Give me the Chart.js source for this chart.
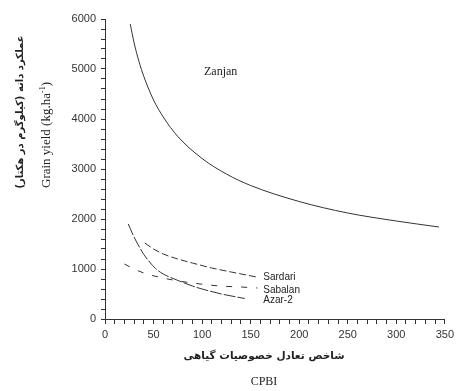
<!DOCTYPE html>
<html>
<head>
<meta charset="utf-8">
<script src="https://cdn.jsdelivr.net/npm/chart.js@4"></script>
<style>
  html, body { margin: 0; padding: 0; background: #fff; }
  #wrap { position: relative; width: 458px; height: 391px; }
  .lbl { position: absolute; color: #222; white-space: nowrap; }
  .rot { transform: translate(-50%, -50%) rotate(-90deg); }
  .fa { font-family: "DejaVu Sans", sans-serif; font-size: 10px; font-weight: bold; direction: rtl; }
  .en { font-family: "Liberation Serif", serif; font-size: 12px; }
</style>
</head>
<body>
<div id="wrap">
  <canvas id="chart" width="458" height="391"></canvas>
  <div class="lbl rot fa" style="left:19px; top:112px;">عملکرد دانه (کیلوگرم در هکتار)</div>
  <div class="lbl rot en" style="left:46px; top:135px; font-size:13px;">Grain yield (kg.ha<sup style="font-size:8px">-1</sup>)</div>
  <div class="lbl fa" style="left:264px; top:355px; transform: translate(-50%, -50%); font-size:10.5px;">شاخص تعادل خصوصیات گیاهی</div>
  <div class="lbl en" style="left:264px; top:381px; transform: translate(-50%, -50%);">CPBI</div>
</div>
<script>
// valores
const zanjanX = [26, 30, 35, 40, 50, 60, 75, 100, 125, 150, 200, 250, 300, 344];
const zanjanY = [5900, 5520, 5150, 4850, 4380, 4040, 3650, 3210, 2900, 2670, 2350, 2120, 1960, 1840];

const sardariX = [41, 50, 60, 75, 90, 110, 130, 156];
const sardariY = [1520, 1400, 1300, 1200, 1120, 1020, 940, 840];

const sabalanX = [20, 30, 40, 55, 70, 90, 118, 140, 157];
const sabalanY = [1100, 1000, 920, 840, 780, 720, 660, 640, 620];

const azarX = [24, 28, 32, 36, 40, 46, 52, 60, 74, 90, 100, 120, 144];
const azarY = [1900, 1720, 1560, 1420, 1290, 1140, 1010, 900, 780, 660, 600, 500, 410];

const seriesNames = ["Zanjan", "Sardari", "Sabalan", "Azar-2"];
const xTicksMajor = [0, 50, 100, 150, 200, 250, 300, 350];
const yTicksMajor = [0, 1000, 2000, 3000, 4000, 5000, 6000];

const toPts = (xs, ys) => xs.map((x, i) => ({ x: x, y: ys[i] }));

const lineColor = "#333";

function ds(label, xs, ys, dash) {
  return {
    label: label,
    data: toPts(xs, ys),
    borderColor: lineColor,
    borderWidth: 1,
    borderDash: dash,
    pointRadius: 0,
    fill: false,
    cubicInterpolationMode: "monotone"
  };
}

// etiquetas de las curvas
const curveLabels = {
  id: "curveLabels",
  afterDatasetsDraw(chart) {
    const ctx = chart.ctx;
    const xs = chart.scales.x, ys = chart.scales.y;
    ctx.save();
    ctx.fillStyle = "#222";
    ctx.textBaseline = "middle";
    // Zanjan
    ctx.font = "12px 'Liberation Serif', serif";
    ctx.textAlign = "left";
    ctx.fillText(seriesNames[0], xs.getPixelForValue(102), ys.getPixelForValue(4940));
    // demás series: texto a la derecha del final
    ctx.font = "10px 'Liberation Sans', sans-serif";
    const ends = [
      [sardariX, sardariY, 1, 0],
      [sabalanX, sabalanY, 2, 2],
      [azarX, azarY, 3, 2]
    ];
    ends.forEach(e => {
      const ly = e[1][e[1].length - 1];
      ctx.fillText(seriesNames[e[2]], xs.getPixelForValue(163), ys.getPixelForValue(ly) + e[3]);
    });
    ctx.restore();
  }
};

new Chart(document.getElementById("chart").getContext("2d"), {
  type: "line",
  data: {
    datasets: [
      ds("Zanjan", zanjanX, zanjanY, []),
      ds("Sardari", sardariX, sardariY, [7, 3]),
      ds("Sabalan", sabalanX, sabalanY, [6, 9]),
      ds("Azar-2", azarX, azarY, [12, 2])
    ]
  },
  options: {
    responsive: false,
    animation: false,
    layout: { padding: { left: 0, right: 12, top: 19, bottom: 0 } },
    plugins: { legend: { display: false }, tooltip: { enabled: false } },
    scales: {
      x: {
        type: "linear",
        min: 0, max: 350,
        afterFit: s => { s.height = 72; },
        border: { display: true, color: lineColor, width: 1 },
        grid: { display: true, drawOnChartArea: false, drawTicks: true, tickLength: 5, color: lineColor },
        ticks: {
          stepSize: 10,
          autoSkip: false,
          maxRotation: 0,
          padding: 4,
          color: "#333",
          font: { family: "'Liberation Sans', sans-serif", size: 11 },
          callback: v => xTicksMajor.includes(v) ? String(v) : ""
        }
      },
      y: {
        min: 0, max: 6000,
        afterFit: s => { s.width = 105; },
        border: { display: true, color: lineColor, width: 1 },
        grid: { display: true, drawOnChartArea: false, drawTicks: true, tickLength: 4, color: lineColor },
        ticks: {
          stepSize: 200,
          autoSkip: false,
          padding: 5,
          color: "#333",
          font: { family: "'Liberation Sans', sans-serif", size: 11 },
          callback: v => yTicksMajor.includes(v) ? String(v) : ""
        }
      }
    }
  },
  plugins: [curveLabels]
});
</script>
</body>
</html>
